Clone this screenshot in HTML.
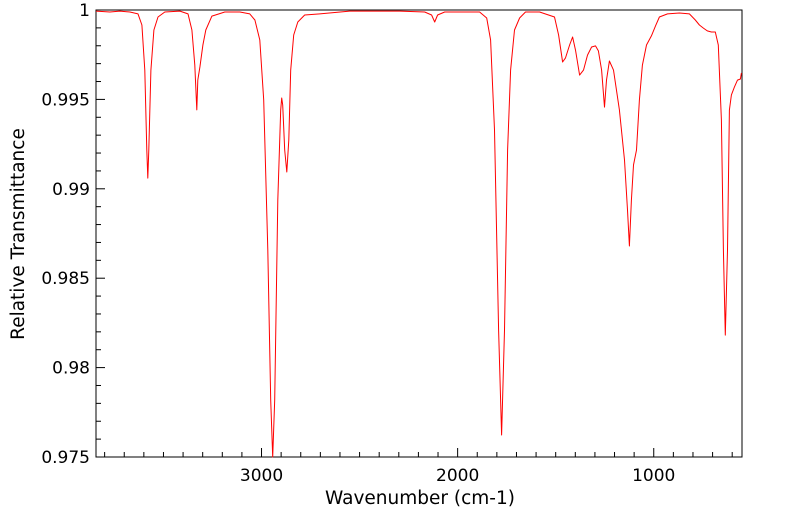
<!DOCTYPE html>
<html><head><meta charset="utf-8"><style>
html,body{margin:0;padding:0;background:#fff;}
svg{display:block;font-family:"DejaVu Sans","Liberation Sans",sans-serif;}
</style></head><body>
<svg id="chart" width="799" height="516">
<rect x="96" y="10" width="646" height="447" fill="#fff" stroke="#000" stroke-width="1"/>
<g id="ticks"></g>
<g id="labels"></g>
<path id="line" fill="none" stroke="#ff0000" stroke-width="1" stroke-linejoin="round"/>
<text x="420" y="504" text-anchor="middle" font-size="18.5">Wavenumber (cm-1)</text>
<text x="24" y="234" text-anchor="middle" font-size="18.5" transform="rotate(-90 24 234)">Relative Transmittance</text>
</svg>
<script>
const wavenumbers=[3844,3773,3722,3671,3630,3610,3595,3585,3580,3575,3564,3549,3528,3493,3416,3375,3355,3340,3330,3325,3314,3299,3284,3253,3187,3110,3060,3034,3009,2989,2968,2953,2943,2933,2917,2902,2897,2892,2882,2871,2861,2851,2836,2815,2780,2703,2550,2295,2168,2133,2117,2102,2066,1888,1852,1832,1812,1791,1776,1761,1745,1730,1710,1684,1654,1582,1506,1485,1465,1450,1429,1414,1399,1378,1358,1338,1317,1297,1282,1266,1251,1241,1226,1205,1175,1149,1134,1124,1114,1103,1088,1073,1058,1037,1012,991,971,930,869,818,788,767,747,727,706,686,671,655,645,635,624,614,604,589,573,558,553];
const transmittance=[0.99994,0.99989,0.99994,0.99989,0.99978,0.99916,0.99664,0.99217,0.9906,0.99217,0.99664,0.99888,0.99961,0.99989,0.99994,0.99978,0.99888,0.99692,0.99441,0.99608,0.99681,0.99804,0.99888,0.99966,0.99989,0.99989,0.99978,0.99944,0.99832,0.99497,0.98658,0.97819,0.975,0.97819,0.98937,0.99441,0.99508,0.99469,0.99217,0.99094,0.99273,0.99664,0.9986,0.99933,0.99972,0.99978,0.99994,0.99994,0.99989,0.99972,0.99933,0.99972,0.99989,0.99989,0.99955,0.99832,0.99329,0.9821,0.97623,0.9821,0.99217,0.99664,0.99888,0.99955,0.99989,0.99989,0.99961,0.9986,0.99709,0.99732,0.99804,0.99849,0.99776,0.99636,0.99664,0.99748,0.99793,0.99799,0.99771,0.99664,0.99457,0.99608,0.99715,0.99664,0.99441,0.99161,0.98881,0.9868,0.98937,0.99133,0.99217,0.99497,0.99692,0.99804,0.99855,0.99911,0.99961,0.99978,0.99983,0.99978,0.99944,0.99916,0.99899,0.99883,0.99877,0.99877,0.99804,0.99385,0.98658,0.98182,0.98658,0.99441,0.99525,0.99569,0.99608,0.99614,0.99648];
const xTickLabels=[3000,2000,1000];
const yTickLabels=[1,0.995,0.99,0.985,0.98,0.975];
const X0=96,X1=742,Y0=10,Y1=457,WMAX=3844,WMIN=550,TMAX=1,TMIN=0.975;
const xs=w=>X0+(WMAX-w)/(WMAX-WMIN)*(X1-X0);
const ys=t=>Y0+(TMAX-t)/(TMAX-TMIN)*(Y1-Y0);
const NS="http://www.w3.org/2000/svg";
let d="";
wavenumbers.forEach((w,i)=>{d+=(i?"L":"M")+xs(w).toFixed(1)+","+ys(transmittance[i]).toFixed(1);});
document.getElementById("line").setAttribute("d",d);
const tg=document.getElementById("ticks"),lg=document.getElementById("labels");
function ln(x1,y1,x2,y2){const l=document.createElementNS(NS,"line");l.setAttribute("x1",x1);l.setAttribute("y1",y1);l.setAttribute("x2",x2);l.setAttribute("y2",y2);l.setAttribute("stroke","#000");


tg.appendChild(l);}
for(let w=600;w<=3800;w+=100){const x=xs(w);ln(x,Y1,x,Y1-(w%1000===0?9:5));}
for(let k=0;k<=25;k++){const t=0.975+k*0.001;const y=ys(t);ln(X0,y,X0+(k%5===0?9:5),y);}
function tx(x,y,s,a){const e=document.createElementNS(NS,"text");e.setAttribute("x",x);e.setAttribute("y",y);e.setAttribute("text-anchor",a);e.setAttribute("font-size","17");e.textContent=s;


lg.appendChild(e);}
xTickLabels.forEach(w=>tx(xs(w),481,String(w),"middle"));
yTickLabels.forEach(t=>tx(90,ys(t)+6,String(t),"end"));
</script>
</body></html>
